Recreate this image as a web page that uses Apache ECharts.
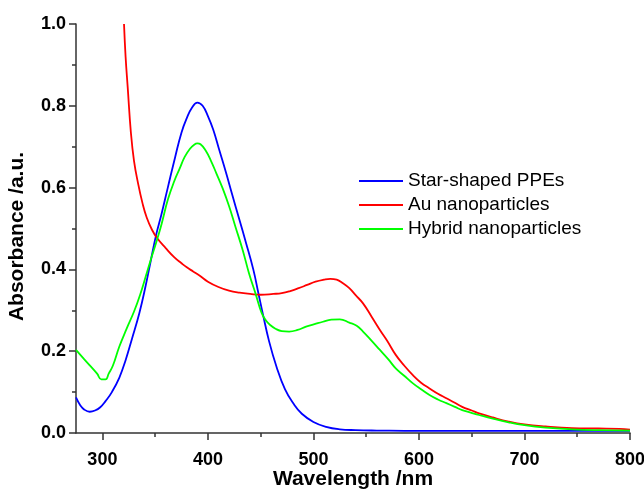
<!DOCTYPE html>
<html>
<head>
<meta charset="utf-8">
<script src="https://cdn.jsdelivr.net/npm/echarts@6/dist/echarts.min.js"></script>
<style>
html,body{margin:0;padding:0;background:#fff;}
#chart{width:644px;height:489px;}
</style>
</head>
<body>
<div id="chart"></div>
<script>
// ---- Data ----
var seriesNames = ['Star-shaped PPEs', 'Au nanoparticles', 'Hybrid nanoparticles'];

var ppeWl  = [275,279,283,288,293,298,303,309,316,322,328,335,341,346,351,356,362,369,375,380,385,390,395,400,405,411,417,423,430,436,443,448,452,458,465,473,481,489,500,512,525,540,560,600,650,700,750,800];
var ppeAbs = [0.087,0.068,0.057,0.052,0.055,0.063,0.078,0.100,0.135,0.178,0.230,0.293,0.360,0.423,0.485,0.535,0.600,0.675,0.735,0.770,0.796,0.808,0.800,0.775,0.742,0.690,0.638,0.583,0.520,0.466,0.400,0.340,0.292,0.224,0.162,0.107,0.072,0.047,0.027,0.015,0.009,0.007,0.006,0.005,0.005,0.005,0.005,0.005];

var auWl  = [320.5,322,324,327,330,334,338,342,347,352,360,368,375,380,386,392,400,410,420,430,440,450,462,470,478,486,494,502,510,516,522,528,534,540,547,555,563,570,578,586,594,602,610,618,626,634,641,650,657,670,685,700,720,745,770,790,800];
var auAbs = [1.0,0.92,0.845,0.735,0.665,0.608,0.562,0.527,0.497,0.476,0.452,0.43,0.415,0.405,0.395,0.385,0.37,0.357,0.348,0.343,0.340,0.338,0.340,0.342,0.347,0.354,0.362,0.370,0.375,0.377,0.375,0.366,0.354,0.337,0.317,0.285,0.252,0.225,0.191,0.165,0.142,0.123,0.109,0.096,0.085,0.074,0.064,0.055,0.048,0.038,0.028,0.021,0.016,0.012,0.011,0.010,0.008];

var hybWl  = [275,285,295,299,303,306,310,316,323,330,336,341,346,351,356,362,368,373,378,383,387,390,393,398,403,408,414,420,426,433,439,445,451,455,459,464,470,477,485,493,501,509,517,525,534,541,547,555,563,571,578,586,594,602,610,618,626,634,641,649,657,670,685,700,720,745,770,800];
var hybAbs = [0.203,0.174,0.145,0.131,0.131,0.145,0.165,0.211,0.255,0.297,0.340,0.382,0.425,0.466,0.510,0.570,0.615,0.645,0.675,0.695,0.705,0.708,0.706,0.690,0.665,0.635,0.598,0.555,0.505,0.447,0.390,0.342,0.293,0.275,0.264,0.255,0.249,0.248,0.252,0.260,0.266,0.272,0.277,0.278,0.270,0.262,0.248,0.226,0.203,0.180,0.158,0.140,0.122,0.107,0.093,0.082,0.073,0.064,0.056,0.050,0.044,0.035,0.026,0.019,0.013,0.009,0.007,0.006];

var xMajorTicks = [300,400,500,600,700,800];
var xMinorTicks = [350,450,550,650,750];

function pairs(xs, ys){ var out=[]; for(var i=0;i<xs.length;i++){ out.push([xs[i], ys[i]]); } return out; }

var chart = echarts.init(document.getElementById('chart'), null, {renderer:'canvas'});
var axisColor = '#333';
var fontFam = 'Arial, "Liberation Sans", sans-serif';

var option = {
  backgroundColor: '#fff',
  animation: false,
  grid: {left: 76, right: 14, top: 24, bottom: 56, containLabel: false, outerBoundsMode: 'none'},
  legend: {
    orient: 'vertical',
    left: 359, top: 171, padding: 0,
    itemWidth: 44, itemHeight: 2, itemGap: 4,
    icon: 'rect',
    textStyle: {fontFamily: fontFam, fontSize: 19, color: '#000', lineHeight: 20},
    data: seriesNames
  },
  xAxis: [{
    type: 'value', min: 275, max: 800, position: 'bottom',
    name: 'Wavelength /nm', nameLocation: 'middle', nameGap: 36, nameMoveOverlap: false,
    nameTextStyle: {fontFamily: fontFam, fontSize: 21, fontWeight: 'bold', color: '#000'},
    axisLine: {show: true, lineStyle: {color: axisColor, width: 1.5}},
    axisTick: {show: true, inside: false, length: 7, customValues: xMajorTicks, lineStyle: {color: axisColor, width: 1.5}},
    axisLabel: {show: true, customValues: xMajorTicks, margin: 18, fontFamily: fontFam, fontSize: 18, fontWeight: 'bold', color: '#000'},
    splitLine: {show: false}
  },{
    type: 'value', min: 275, max: 800, position: 'bottom', offset: 0,
    axisLine: {show: false},
    axisTick: {show: true, inside: false, length: 4, customValues: xMinorTicks, lineStyle: {color: axisColor, width: 1.5}},
    axisLabel: {show: false},
    splitLine: {show: false}
  }],
  yAxis: {
    type: 'value', min: 0, max: 1, interval: 0.2,
    name: 'Absorbance /a.u.', nameLocation: 'middle', nameGap: 48, nameMoveOverlap: false,
    nameTextStyle: {fontFamily: fontFam, fontSize: 21, fontWeight: 'bold', color: '#000', padding: [0, 16, 0, 0]},
    axisLine: {show: true, lineStyle: {color: axisColor, width: 1.5}},
    axisTick: {show: true, inside: false, length: 7, lineStyle: {color: axisColor, width: 1.5}},
    minorTick: {show: true, splitNumber: 2, length: 4, lineStyle: {color: axisColor, width: 1.5}},
    axisLabel: {margin: 10, fontFamily: fontFam, fontSize: 18, fontWeight: 'bold', color: '#000',
      formatter: function(v){ return v.toFixed(1); }},
    splitLine: {show: false},
    minorSplitLine: {show: false}
  },
  series: [
    {name: seriesNames[0], type: 'line', xAxisIndex: 0, data: pairs(ppeWl, ppeAbs), showSymbol: false, smooth: 0.45,
     color: '#0000ff', lineStyle: {color: '#0000ff', width: 1.8}},
    {name: seriesNames[1], type: 'line', xAxisIndex: 0, data: pairs(auWl, auAbs), showSymbol: false, smooth: 0.45,
     color: '#ff0000', lineStyle: {color: '#ff0000', width: 1.8}},
    {name: seriesNames[2], type: 'line', xAxisIndex: 0, data: pairs(hybWl, hybAbs), showSymbol: false, smooth: 0.45,
     color: '#00ff00', lineStyle: {color: '#00ff00', width: 1.8}}
  ]
};
chart.setOption(option);
</script>
</body>
</html>
